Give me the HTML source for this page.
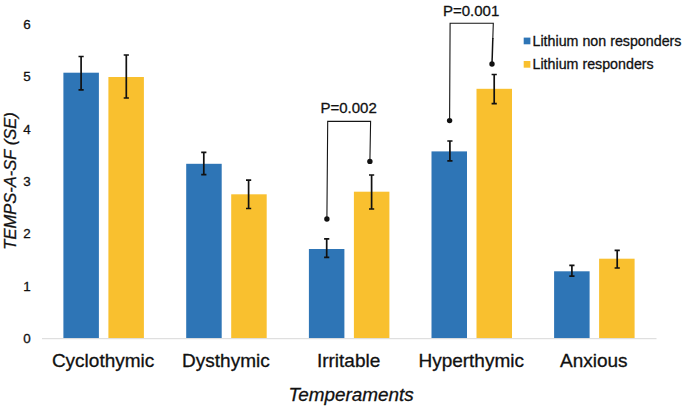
<!DOCTYPE html>
<html><head><meta charset="utf-8"><title>chart</title>
<style>
html,body{margin:0;padding:0;background:#fff;}
body{width:685px;height:407px;overflow:hidden;font-family:"Liberation Sans",sans-serif;}
svg{display:block;}
text{font-family:"Liberation Sans",sans-serif;fill:#111;stroke:#111;stroke-width:0.3px;}
</style></head><body>
<svg width="685" height="407" viewBox="0 0 685 407">
<rect width="685" height="407" fill="#ffffff"/>
<rect x="63.4" y="72.7" width="35.5" height="265.4" fill="#2E75B6"/>
<rect x="108.4" y="77.0" width="35.5" height="261.1" fill="#F9C02F"/>
<rect x="186.2" y="163.8" width="35.5" height="174.3" fill="#2E75B6"/>
<rect x="231.2" y="194.3" width="35.5" height="143.8" fill="#F9C02F"/>
<rect x="308.9" y="249.0" width="35.5" height="89.1" fill="#2E75B6"/>
<rect x="353.9" y="191.7" width="35.5" height="146.4" fill="#F9C02F"/>
<rect x="431.5" y="151.4" width="35.5" height="186.7" fill="#2E75B6"/>
<rect x="476.5" y="88.8" width="35.5" height="249.3" fill="#F9C02F"/>
<rect x="554.1" y="271.3" width="35.5" height="66.8" fill="#2E75B6"/>
<rect x="599.1" y="258.7" width="35.5" height="79.4" fill="#F9C02F"/>
<line x1="42" y1="338.7" x2="656.5" y2="338.7" stroke="#d4d4d4" stroke-width="0.9"/>
<path d="M81.1 56.5V89.9M78.5 56.5H83.7M78.5 89.9H83.7" stroke="#111" stroke-width="1.7" fill="none"/>
<path d="M126.3 55.0V98.0M123.7 55.0H128.9M123.7 98.0H128.9" stroke="#111" stroke-width="1.7" fill="none"/>
<path d="M203.8 152.4V174.7M201.2 152.4H206.4M201.2 174.7H206.4" stroke="#111" stroke-width="1.7" fill="none"/>
<path d="M248.6 180.2V208.5M246.0 180.2H251.2M246.0 208.5H251.2" stroke="#111" stroke-width="1.7" fill="none"/>
<path d="M326.7 238.8V257.4M324.1 238.8H329.3M324.1 257.4H329.3" stroke="#111" stroke-width="1.7" fill="none"/>
<path d="M371.6 175.0V209.0M369.0 175.0H374.2M369.0 209.0H374.2" stroke="#111" stroke-width="1.7" fill="none"/>
<path d="M449.9 141.0V160.8M447.3 141.0H452.5M447.3 160.8H452.5" stroke="#111" stroke-width="1.7" fill="none"/>
<path d="M494.2 74.5V103.7M491.6 74.5H496.8M491.6 103.7H496.8" stroke="#111" stroke-width="1.7" fill="none"/>
<path d="M571.9 265.4V276.1M569.3 265.4H574.5M569.3 276.1H574.5" stroke="#111" stroke-width="1.7" fill="none"/>
<path d="M617.2 250.4V268.0M614.6 250.4H619.8M614.6 268.0H619.8" stroke="#111" stroke-width="1.7" fill="none"/>
<path d="M326.9 219 L327.7 121.4 H370.6 L369.9 161.4" stroke="#151515" stroke-width="1.1" fill="none"/>
<circle cx="326.9" cy="219" r="2.7" fill="#111"/><circle cx="369.9" cy="161.4" r="2.7" fill="#111"/>
<path d="M449.6 120.6 L450.1 23.2 H493.3 L492.8 39" stroke="#151515" stroke-width="1.1" fill="none"/>
<path d="M492.85 38 L492 64" stroke="#111" stroke-width="1.5" fill="none"/>
<circle cx="449.6" cy="120.6" r="2.7" fill="#111"/><circle cx="492" cy="64" r="2.7" fill="#111"/>
<text x="320.5" y="112.8" font-size="15">P=0.002</text>
<text x="443.0" y="15.8" font-size="15">P=0.001</text>
<text x="27" y="343.2" font-size="13.4" text-anchor="middle">0</text>
<text x="27" y="290.8" font-size="13.4" text-anchor="middle">1</text>
<text x="27" y="238.4" font-size="13.4" text-anchor="middle">2</text>
<text x="27" y="186.0" font-size="13.4" text-anchor="middle">3</text>
<text x="27" y="133.6" font-size="13.4" text-anchor="middle">4</text>
<text x="27" y="81.2" font-size="13.4" text-anchor="middle">5</text>
<text x="27" y="28.8" font-size="13.4" text-anchor="middle">6</text>
<text x="103.1" y="366.5" font-size="19" text-anchor="middle">Cyclothymic</text>
<text x="225.9" y="366.5" font-size="19" text-anchor="middle">Dysthymic</text>
<text x="348.6" y="366.5" font-size="19" text-anchor="middle">Irritable</text>
<text x="471.2" y="366.5" font-size="19" text-anchor="middle">Hyperthymic</text>
<text x="593.8" y="366.5" font-size="19" text-anchor="middle">Anxious</text>
<text x="351.1" y="401.3" font-size="18.9" font-style="italic" text-anchor="middle">Temperaments</text>
<text transform="translate(16 181.0) rotate(-90)" font-size="16.53" font-style="italic" text-anchor="middle">TEMPS-A-SF (SE)</text>
<rect x="523.7" y="37.6" width="6.7" height="6.7" fill="#2E75B6"/>
<rect x="523.7" y="61" width="6.7" height="6.7" fill="#F9C02F"/>
<text x="532.5" y="46" font-size="14.25">Lithium non responders</text>
<text x="532.5" y="69" font-size="14.25">Lithium responders</text>
</svg></body></html>
